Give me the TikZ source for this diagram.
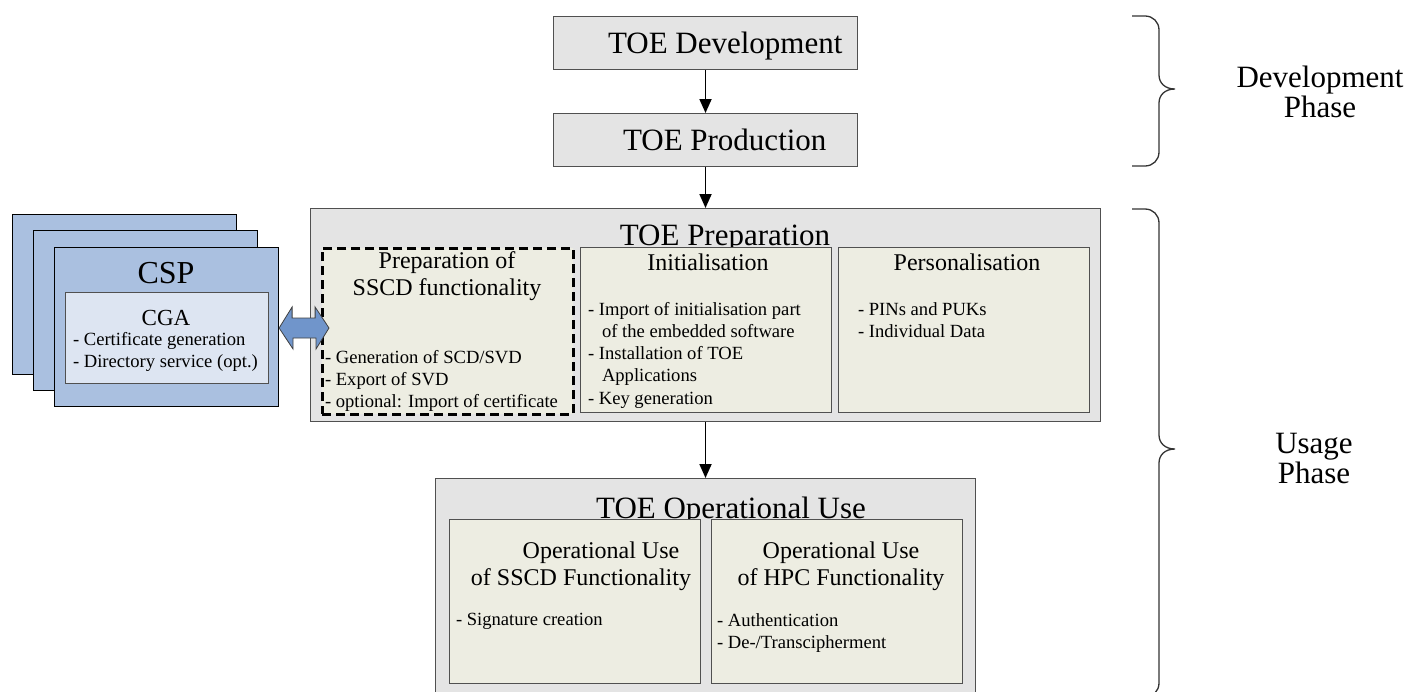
\documentclass[tikz,border=0pt]{standalone}
\usepackage{fontspec}
\setmainfont{Liberation Serif}
\usetikzlibrary{arrows.meta}
\definecolor{outerfill}{HTML}{E4E4E4}
\definecolor{innerfill}{HTML}{EDEDE2}
\definecolor{boxline}{HTML}{505050}
\definecolor{cspfill}{HTML}{AAC0E0}
\definecolor{cgafill}{HTML}{DDE5F2}
\definecolor{arrowblue}{HTML}{7095CB}
\newcommand\ftitle{\fontsize{31}{30}\selectfont}
\newcommand\fhead{\fontsize{24}{27}\selectfont}
\newcommand\fbody{\fontsize{18.6}{22.3}\selectfont}
\newcommand\fcsp{\fontsize{32}{32}\selectfont}
\newcommand\fcga{\fontsize{23}{23}\selectfont}
\begin{document}
\begin{tikzpicture}[x=1pt,y=-1pt,
  outerbox/.style={draw=boxline,fill=outerfill,line width=1pt,inner sep=0pt,anchor=north west},
  innerbox/.style={draw=boxline,fill=innerfill,line width=1pt,inner sep=0pt,anchor=north west},
  dashbox/.style={draw=black,fill=innerfill,line width=2.6pt,dash pattern=on 9pt off 5pt,inner sep=0pt,anchor=north west},
  cspbox/.style={draw=black,fill=cspfill,line width=1.1pt,inner sep=0pt,anchor=north west,minimum width=224pt,minimum height=160pt},
  cgabox/.style={draw=boxline,fill=cgafill,line width=1pt,inner sep=0pt,anchor=north west},
  txt/.style={inner sep=0pt,outer sep=0pt},
  flow/.style={line width=1.8pt,-{Triangle[width=12pt,length=14pt]}},
  brace/.style={draw=black!80,line width=1.3pt}]
\useasboundingbox (0,0) rectangle (1413,691);
\clip (0,0) rectangle (1413,691);

% Development boxes
\node[outerbox,minimum width=304pt,minimum height=53pt] (dev) at (553,16) {};
\node[txt,anchor=base west] (devt) at (608,53) {\ftitle TOE Development};
\node[outerbox,minimum width=304pt,minimum height=53pt] (prod) at (553,113) {};
\node[txt,anchor=base west] (prodt) at (623,150) {\ftitle TOE Production};

% TOE Preparation
\node[outerbox,minimum width=790pt,minimum height=213pt] (prep) at (310,208) {};
\node[txt,anchor=base] (prept) at (725,245.5) {\ftitle TOE Preparation};
\node[dashbox,minimum width=251pt,minimum height=166pt] (sscd) at (321,247) {};
\node[innerbox,minimum width=251pt,minimum height=165pt] (init) at (580,247) {};
\node[innerbox,minimum width=251pt,minimum height=165pt] (pers) at (838,247) {};

\node[txt,anchor=base] (sscdh) at (447,268) {\fhead\begin{tabular}[t]{@{}c@{}}Preparation of\\SSCD functionality\end{tabular}};
\node[txt,anchor=base west] (sscdb) at (325,363) {\fbody\begin{tabular}[t]{@{}l@{}}- Generation of SCD/SVD\\- Export of SVD\\- optional: Import of certificate\end{tabular}};

\node[txt,anchor=base] (inith) at (708,270) {\fhead Initialisation};
\node[txt,anchor=base west] (initb) at (588,315) {\fbody\begin{tabular}[t]{@{}l@{}}- Import of initialisation part\\\hspace*{14pt}of the embedded software\\- Installation of TOE\\\hspace*{14pt}Applications\\- Key generation\end{tabular}};

\node[txt,anchor=base] (persh) at (967,270) {\fhead Personalisation};
\node[txt,anchor=base west] (persb) at (858,315) {\fbody\begin{tabular}[t]{@{}l@{}}- PINs and PUKs\\- Individual Data\end{tabular}};

% TOE Operational Use
\node[outerbox,minimum width=540pt,minimum height=240pt] (use) at (435,478) {};
\node[txt,anchor=base] (uset) at (731,518) {\ftitle TOE Operational Use};
\node[innerbox,minimum width=251pt,minimum height=164pt] (op1) at (449,519) {};
\node[innerbox,minimum width=251pt,minimum height=164pt] (op2) at (711,519) {};
\node[txt,anchor=base] (op1h) at (581,558) {\fhead\begin{tabular}[t]{@{}c@{}}\hspace*{40pt}Operational Use\\of SSCD Functionality\end{tabular}};
\node[txt,anchor=base west] (op1b) at (456,625) {\fbody - Signature creation};
\node[txt,anchor=base] (op2h) at (841,558) {\fhead\begin{tabular}[t]{@{}c@{}}Operational Use\\of HPC Functionality\end{tabular}};
\node[txt,anchor=base west] (op2b) at (717,626) {\fbody\begin{tabular}[t]{@{}l@{}}- Authentication\\- De-/Transcipherment\end{tabular}};

% CSP stack
\node[cspbox] (csp3) at (12,214) {};
\node[cspbox] (csp2) at (33,230) {};
\node[cspbox,minimum height=159pt] (csp1) at (54,247) {};
\node[txt,anchor=base] (cspt) at (166,283) {\fcsp CSP};
\node[cgabox,minimum width=203pt,minimum height=91pt] (cga) at (65,292) {};
\node[txt,anchor=base] (cgat) at (166,325) {\fcga CGA};
\node[txt,anchor=base west] (cgab) at (73,345) {\fbody\begin{tabular}[t]{@{}l@{}}- Certificate generation\\- Directory service (opt.)\end{tabular}};

% double block arrow between CSP and SSCD preparation
\coordinate (dal) at (csp1.east |- 0,328);
\coordinate (dar) at (329,328);
\filldraw[fill=arrowblue,draw=black!75,line width=0.8pt]
  (dal) -- ++(13,-21) -- ++(0,11) -- ++(23,0) -- ++(0,-11) -- (dar)
  -- ++(-13,21) -- ++(0,-11) -- ++(-23,0) -- ++(0,11) -- cycle;

% flow arrows
\draw[flow] (dev.south) -- (prod.north);
\draw[flow] (prod.south) -- (prep.north);
\draw[flow] (prep.south) -- (use.north);

% braces
\draw[brace] (1132,16) -- (1145,16) .. controls (1153,16) and (1159,22) .. (1159,30) -- (1159,75)
  .. controls (1159,83) and (1165,89) .. (1175,89) .. controls (1165,89) and (1159,95) .. (1159,103)
  -- (1159,152) .. controls (1159,160) and (1153,166) .. (1145,166) -- (1132,166);
\draw[brace] (1132,209) -- (1145,209) .. controls (1153,209) and (1159,215) .. (1159,223) -- (1159,435)
  .. controls (1159,443) and (1165,449) .. (1175,449) .. controls (1165,449) and (1159,455) .. (1159,463)
  -- (1159,683) .. controls (1159,691) and (1153,697) .. (1145,697) -- (1132,697);

\node[txt,anchor=base] (devph) at (1320,87) {\ftitle\begin{tabular}[t]{@{}c@{}}Development\\Phase\end{tabular}};
\node[txt,anchor=base] (useph) at (1314,453) {\ftitle\begin{tabular}[t]{@{}c@{}}Usage\\Phase\end{tabular}};
\end{tikzpicture}
\end{document}
